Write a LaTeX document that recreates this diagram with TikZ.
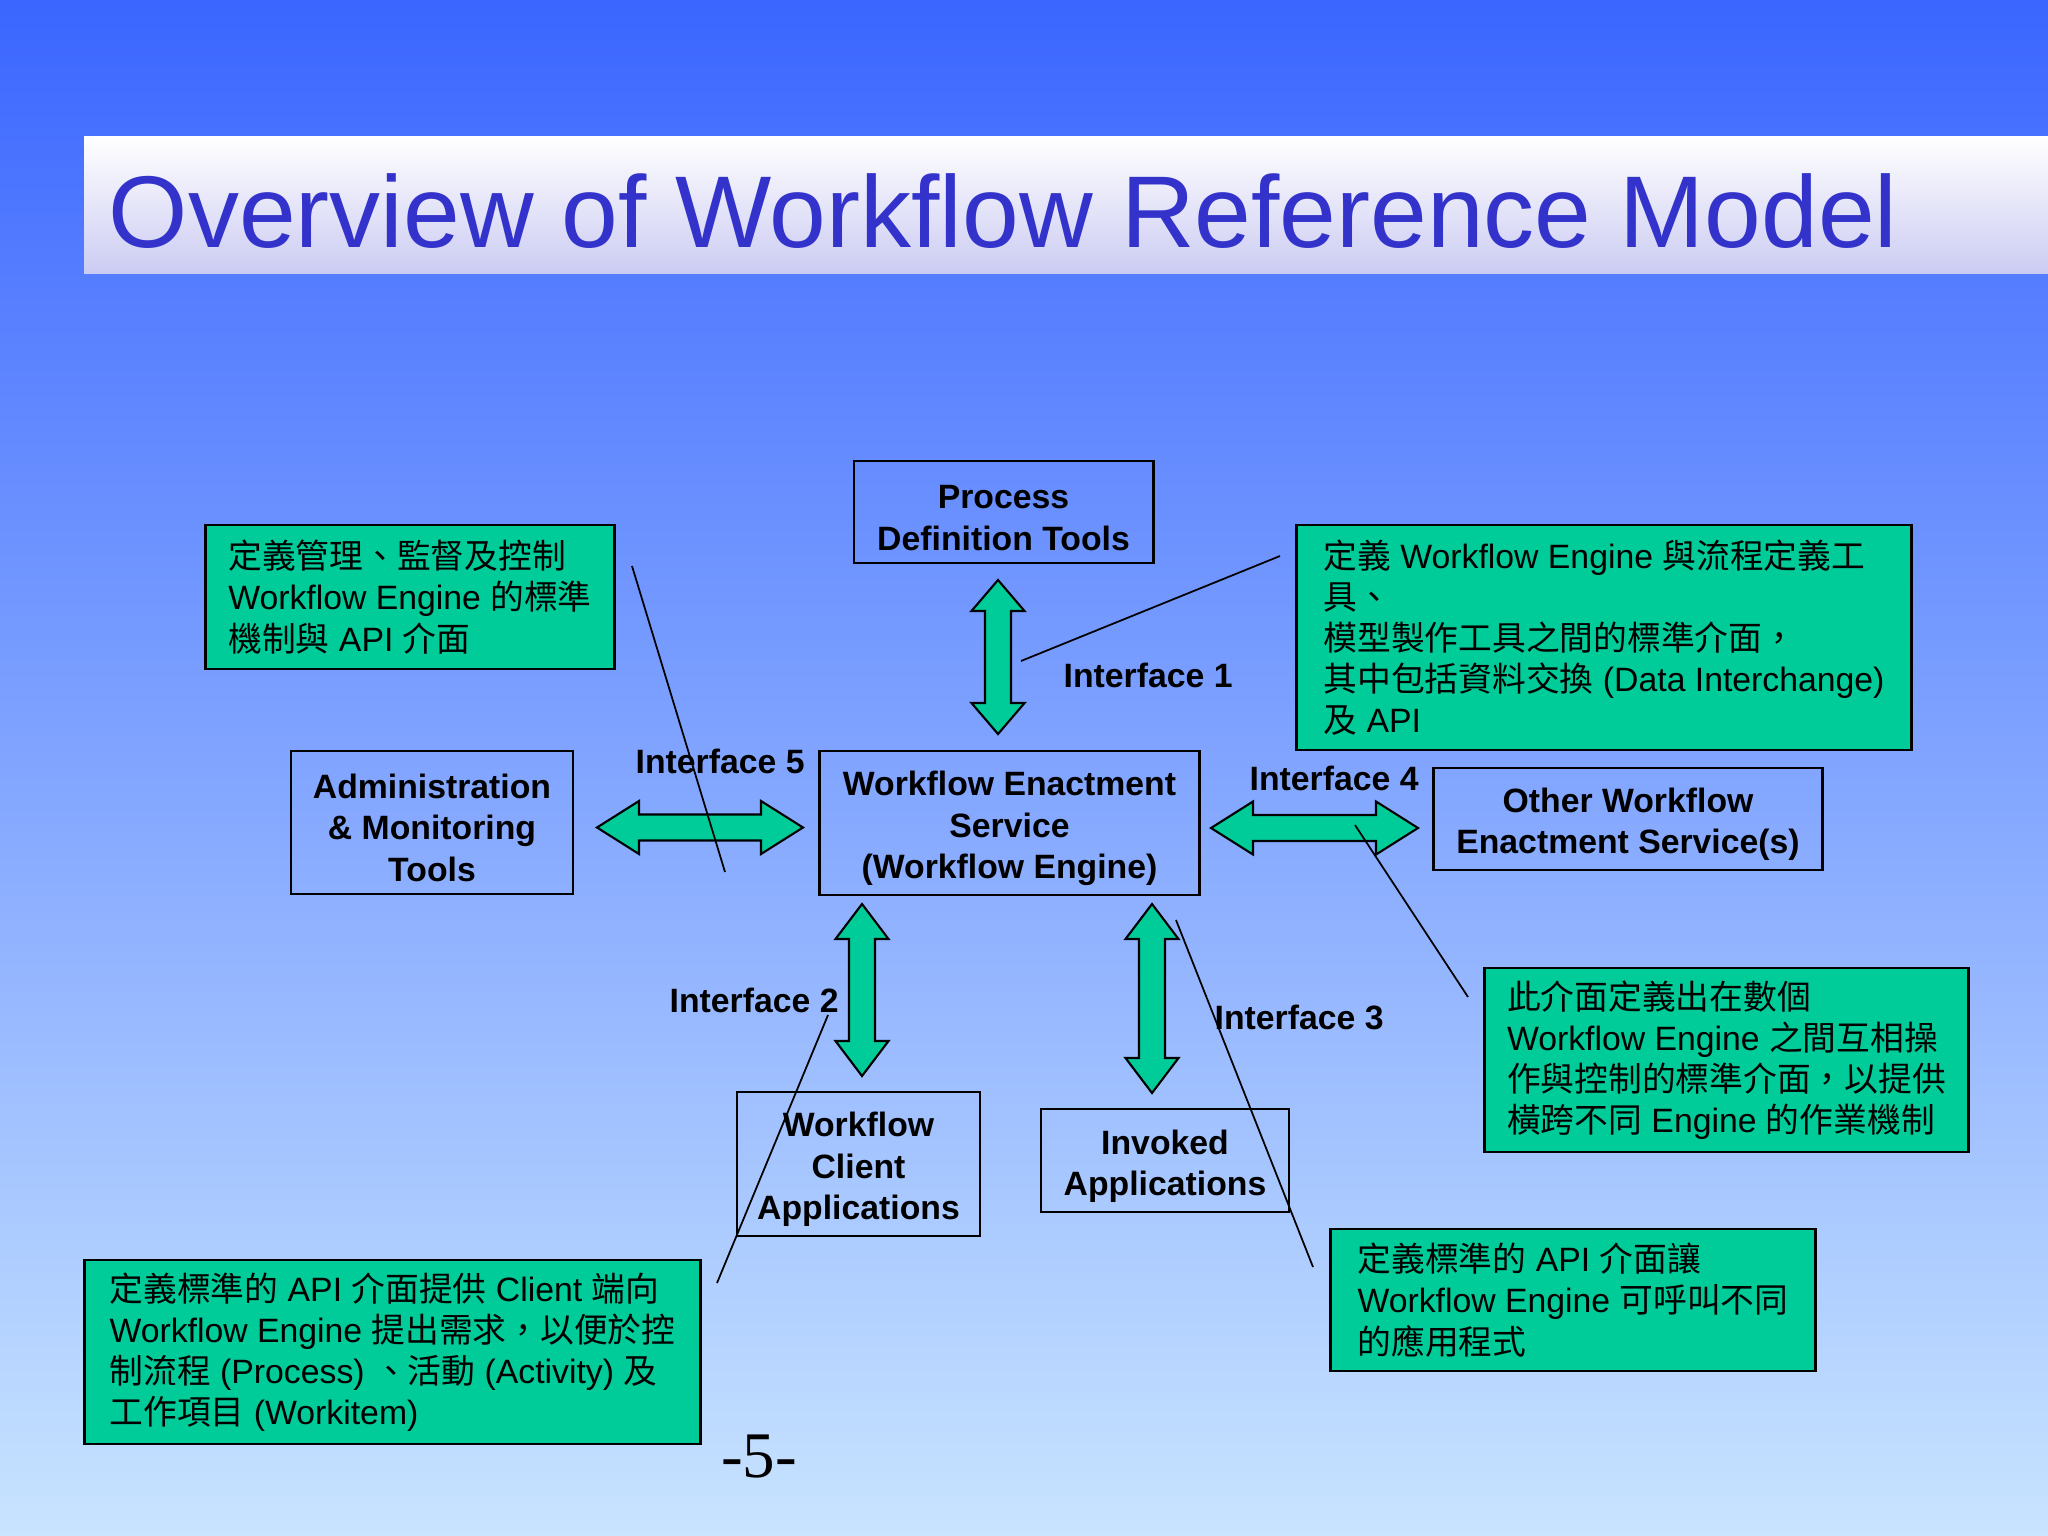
\documentclass[tikz,border=0pt]{standalone}
\usepackage{fontspec}
\setmainfont{Liberation Sans}
\newfontfamily\cjk{Noto Sans CJK TC}
\newfontfamily\pagefont{Liberation Serif}
\usepackage{xcolor}

\definecolor{bgtop}{RGB}{59,102,255}
\definecolor{bgbot}{RGB}{200,228,255}
\definecolor{titleblue}{RGB}{51,51,204}
\definecolor{titlebot}{RGB}{204,204,243}
\definecolor{notegreen}{RGB}{0,204,153}

\newcommand{\zh}[1]{{\cjk #1}}
\newcommand{\tstrut}{\rule{0pt}{10pt}}

% double block arrows: from, to, position, head length
\newcommand{\hdouble}[4]{%
  \draw[blockarrow] (#1,#3) -- (#1+#4,#3-26.5) -- (#1+#4,#3-13) -- (#2-#4,#3-13)
    -- (#2-#4,#3-26.5) -- (#2,#3) -- (#2-#4,#3+26.5) -- (#2-#4,#3+13)
    -- (#1+#4,#3+13) -- (#1+#4,#3+26.5) -- cycle;}
\newcommand{\vdouble}[4]{%
  \draw[blockarrow] (#1,#2) -- (#1+26.5,#2+#4) -- (#1+13,#2+#4) -- (#1+13,#3-#4)
    -- (#1+26.5,#3-#4) -- (#1,#3) -- (#1-26.5,#3-#4) -- (#1-13,#3-#4)
    -- (#1-13,#2+#4) -- (#1-26.5,#2+#4) -- cycle;}

\tikzset{
  unitbox/.style={draw, line width=0.8pt, align=center, inner sep=0pt,
    font=\fontsize{9.6}{11.7}\selectfont\bfseries},
  notebox/.style={draw, line width=0.8pt, fill=notegreen, align=left, inner sep=0pt,
    font=\fontsize{9.6}{11.7}\selectfont},
  iflabel/.style={anchor=base west, inner sep=0pt,
    font=\fontsize{9.6}{11.7}\selectfont\bfseries},
  callout/.style={line width=0.5pt},
  blockarrow/.style={draw=black, line width=0.6pt, fill=notegreen},
}

\begin{document}
\begin{tikzpicture}[x=0.01cm, y=-0.01cm]
  \useasboundingbox (0,0) rectangle (2048,1536);
  \shade[top color=bgtop, bottom color=bgbot] (0,0) rectangle (2048,1536);

  % title bar
  \shade[top color=white, bottom color=titlebot] (84,136) rectangle (2048,273);
  \node[anchor=base west, inner sep=0pt, text=titleblue,
    font=\fontsize{29}{35}\selectfont] (title) at (108,247)
    {Overview of Workflow Reference Model};

  % components
  \node[unitbox, minimum width=2.99cm, minimum height=1.02cm] (pdt) at (1003.5,512)
    {\tstrut Process\\Definition Tools};
  \node[unitbox, minimum width=2.82cm, minimum height=1.43cm] (adm) at (432,822.5)
    {\tstrut Administration\\\& Monitoring\\Tools};
  \node[unitbox, minimum width=3.79cm, minimum height=1.44cm] (wes) at (1009.5,823)
    {\tstrut Workflow Enactment\\Service\\(Workflow Engine)};
  \node[unitbox, minimum width=3.88cm, minimum height=1.02cm] (owes) at (1628,819)
    {\tstrut Other Workflow\\Enactment Service(s)};
  \node[unitbox, minimum width=2.43cm, minimum height=1.44cm] (wca) at (858.5,1164)
    {\tstrut Workflow\\Client\\Applications};
  \node[unitbox, minimum width=2.48cm, minimum height=1.03cm] (inv) at (1165,1160.5)
    {\tstrut Invoked\\Applications};

  % interfaces
  \vdouble{998}{580}{734}{31}
  \hdouble{597}{803}{827.5}{42}
  \hdouble{1211}{1418}{828}{42}
  \vdouble{862}{904}{1076}{35}
  \vdouble{1152}{904}{1093}{35}
  \node[iflabel] (if1) at (1063,687) {Interface 1};
  \node[iflabel] (if2) at (669,1012) {Interface 2};
  \node[iflabel] (if3) at (1214,1029) {Interface 3};
  \node[iflabel] (if4) at (1249,790) {Interface 4};
  \node[iflabel] (if5) at (635,773) {Interface 5};

  % notes
  \node[notebox, minimum width=4.08cm, minimum height=1.44cm] (noteadm) at (410,597)
    {\zh{定義管理、監督及控制}\\Workflow Engine \zh{的標準}\\\zh{機制與} API \zh{介面}};
  \node[notebox, minimum width=6.14cm, minimum height=2.25cm] (notepdt) at (1604,637.5)
    {\zh{定義} Workflow Engine \zh{與流程定義工}\\\zh{具、}\\\zh{模型製作工具之間的標準介面，}\\\zh{其中包括資料交換} (Data Interchange)\\\zh{及} API};
  \node[notebox, minimum width=4.83cm, minimum height=1.84cm] (noteowes) at (1726.5,1060)
    {\zh{此介面定義出在數個}\\Workflow Engine \zh{之間互相操}\\\zh{作與控制的標準介面，以提供}\\\zh{橫跨不同} Engine \zh{的作業機制}};
  \node[notebox, minimum width=6.15cm, minimum height=1.84cm] (notewca) at (392.5,1352)
    {\zh{定義標準的} API \zh{介面提供} Client \zh{端向}\\Workflow Engine \zh{提出需求，以便於控}\\\zh{制流程} (Process) \zh{、活動} (Activity) \zh{及}\\\zh{工作項目} (Workitem)};
  \node[notebox, minimum width=4.84cm, minimum height=1.42cm] (noteinv) at (1573,1300)
    {\zh{定義標準的} API \zh{介面讓}\\Workflow Engine \zh{可呼叫不同}\\\zh{的應用程式}};

  % callout lines
  \coordinate (c5a) at (632,566);
  \coordinate (c5b) at (725,872);
  \coordinate (c1a) at (1280,556);
  \coordinate (c1b) at (1021,661);
  \coordinate (c4a) at (1355,825);
  \coordinate (c4b) at (1468,997);
  \coordinate (c2a) at (828,1015);
  \coordinate (c2b) at (717,1283);
  \coordinate (c3a) at (1176,920);
  \coordinate (c3b) at (1313,1267);
  \draw[callout] (c5a) -- (c5b);
  \draw[callout] (c1a) -- (c1b);
  \draw[callout] (c4a) -- (c4b);
  \draw[callout] (c2a) -- (c2b);
  \draw[callout] (c3a) -- (c3b);

  \node[anchor=base, inner sep=0pt, font=\pagefont\fontsize{18.5}{22}\selectfont]
    (pagenum) at (759,1477) {-5-};
\end{tikzpicture}
\end{document}
